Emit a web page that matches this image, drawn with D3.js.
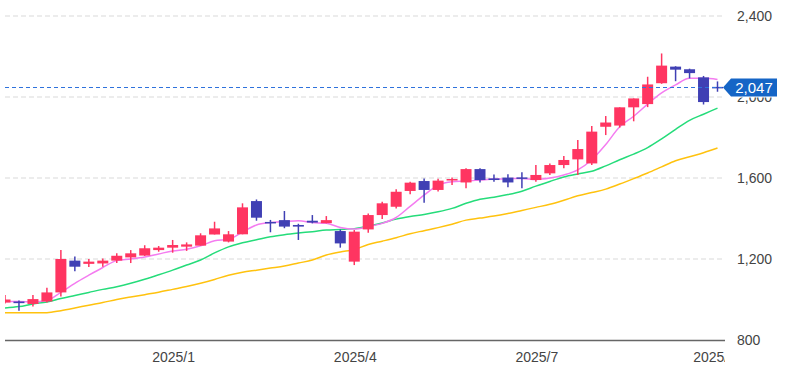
<!DOCTYPE html>
<html>
<head>
<meta charset="utf-8">
<script src="https://cdn.jsdelivr.net/npm/d3@7"></script>
<style>
    body { margin: 0; background: #fff; }
    #chart-area text { font-family: "Liberation Sans", Arial, sans-serif; }
</style>
</head>
<body>
<div id="chart-area"></div>
<script>

// weekly candles, first week starts Mon 2024-10-07 (52 weeks)
var firstWeek = new Date(2024, 9, 7);
var weekCount = 52;

// OHLC
var opens  = [985, 990, 978, 990, 1035, 1192, 1176, 1178, 1192, 1208, 1217, 1244, 1256, 1261, 1266, 1321, 1286, 1322,
              1486, 1383, 1392, 1368, 1389, 1377, 1338, 1187, 1346, 1417, 1458, 1536, 1585, 1541, 1588, 1578, 1644, 1598,
              1602, 1603, 1590, 1623, 1664, 1692, 1672, 1853, 1859, 1949, 1965, 2068, 2150, 2137, 2097, 2050];
var highs  = [1022, 995, 1022, 1058, 1245, 1212, 1200, 1203, 1229, 1244, 1268, 1264, 1294, 1282, 1327, 1384, 1338, 1475,
              1494, 1393, 1437, 1374, 1417, 1412, 1346, 1343, 1425, 1483, 1544, 1582, 1598, 1596, 1602, 1648, 1648, 1617,
              1618, 1629, 1664, 1672, 1709, 1788, 1857, 1906, 1949, 1993, 2100, 2215, 2152, 2140, 2104, 2077];
var lows   = [980, 945, 965, 985, 1015, 1140, 1160, 1162, 1180, 1180, 1215, 1236, 1231, 1240, 1266, 1321, 1282, 1322,
              1389, 1332, 1352, 1294, 1376, 1376, 1256, 1170, 1330, 1398, 1450, 1520, 1478, 1533, 1565, 1549, 1578, 1582,
              1554, 1549, 1582, 1615, 1648, 1615, 1664, 1812, 1849, 1880, 1950, 2065, 2078, 2092, 1963, 2026];
var closes = [1000, 982, 1002, 1035, 1200, 1162, 1187, 1192, 1216, 1228, 1253, 1256, 1269, 1272, 1317, 1351, 1322, 1455,
              1404, 1376, 1360, 1360, 1380, 1392, 1277, 1335, 1417, 1475, 1532, 1577, 1541, 1587, 1595, 1644, 1590, 1590,
              1578, 1596, 1615, 1664, 1689, 1743, 1829, 1874, 1949, 1993, 2062, 2155, 2135, 2118, 1975, 2047];

// moving averages (5 / 13 / 26 weeks)
var ma5  = [990, 990, 988, 995, 1035, 1080, 1120, 1158, 1192, 1200, 1210, 1225, 1240, 1248, 1265, 1290, 1297, 1333,
            1368, 1380, 1385, 1389, 1380, 1376, 1356, 1348, 1360, 1376, 1405, 1460, 1515, 1565, 1582, 1585, 1590, 1595,
            1596, 1598, 1593, 1600, 1615, 1640, 1690, 1765, 1853, 1905, 1965, 2020, 2060, 2092, 2092, 2087];
var ma13 = [958, 965, 978, 988, 1005, 1020, 1035, 1050, 1063, 1080, 1100, 1122, 1145, 1170, 1195, 1230, 1260, 1280,
            1295, 1310, 1320, 1328, 1335, 1343, 1346, 1350, 1362, 1378, 1397, 1410, 1420, 1433, 1450, 1475, 1495, 1505,
            1518, 1535, 1560, 1583, 1605, 1620, 1633, 1660, 1690, 1718, 1750, 1793, 1840, 1885, 1915, 1945];
var ma26 = [935, 935, 935, 935, 945, 958, 972, 985, 1000, 1012, 1024, 1036, 1050, 1064, 1080, 1099, 1120, 1135,
            1145, 1155, 1165, 1180, 1195, 1220, 1235, 1246, 1272, 1288, 1305, 1325, 1340, 1355, 1372, 1392, 1402, 1412,
            1425, 1440, 1455, 1470, 1490, 1512, 1528, 1545, 1570, 1597, 1625, 1655, 1685, 1705, 1725, 1748];

var lastPrice = 2047;

var yTicks = [800, 1200, 1600, 2000, 2400];
var xTickWeeks  = ["2024-12-30", "2025-03-31", "2025-06-30", "2025-09-29"];
var xTickLabels = ["2025/1", "2025/4", "2025/7", "2025/10"];


CandleChart = function(_parentElement) {
    this.parentElement = _parentElement;
    this.displayData = [];
    this.initVis();
};

CandleChart.prototype.initVis = function() {
    var vis = this;

    vis.svgWidth = 810;
    vis.svgHeight = 367;
    vis.plot = {left: 5, right: 725, top: 0, bottom: 340};

    vis.svg = d3.select("#" + vis.parentElement).append("svg")
        .attr("width", vis.svgWidth)
        .attr("height", vis.svgHeight);

    vis.svg.append("clipPath").attr("id", "plot-clip")
        .append("rect")
        .attr("x", vis.plot.left)
        .attr("y", 0)
        .attr("width", vis.plot.right - vis.plot.left)
        .attr("height", vis.plot.bottom);

    vis.svg.append("clipPath").attr("id", "plot-clip-x")
        .append("rect")
        .attr("x", 0).attr("y", 340)
        .attr("width", vis.plot.right).attr("height", 27);

    vis.y = d3.scaleLinear()
        .domain([800, 2400])
        .range([340, 16]);

    vis.wrangleData();
};

CandleChart.prototype.wrangleData = function() {
    var vis = this;

    var weeks = d3.timeMonday.range(firstWeek, d3.timeWeek.offset(firstWeek, weekCount));
    var fmt = d3.timeFormat("%Y-%m-%d");

    vis.displayData = weeks.map(function(d, i) {
        return {
            key: fmt(d),
            open: opens[i], high: highs[i], low: lows[i], close: closes[i],
            ma5: ma5[i], ma13: ma13[i], ma26: ma26[i]
        };
    });

    // one slot per week
    vis.x = d3.scalePoint()
        .domain(vis.displayData.map(function(d) { return d.key; }))
        .range([5, 717.5]);

    vis.updateVis();
};

CandleChart.prototype.updateVis = function() {
    var vis = this;
    var p = vis.plot;

    // dashed grid
    vis.svg.append("g").attr("class", "grid")
        .selectAll("line")
        .data(yTicks.filter(function(t) { return t > 800; }))
        .enter().append("line")
        .attr("x1", p.left).attr("x2", p.right)
        .attr("y1", function(d) { return vis.y(d); })
        .attr("y2", function(d) { return vis.y(d); })
        .attr("stroke", "#d9d9d9")
        .attr("stroke-width", 1)
        .attr("stroke-dasharray", "5,3");

    // y labels on the right
    vis.svg.append("g").attr("class", "y-labels")
        .selectAll("text")
        .data(yTicks)
        .enter().append("text")
        .attr("x", 737)
        .attr("y", function(d) { return vis.y(d) + 5; })
        .attr("font-size", 14)
        .attr("fill", "#444")
        .text(d3.format(","));

    // bottom axis line
    vis.svg.append("line")
        .attr("x1", p.left).attr("x2", p.right)
        .attr("y1", 340.5).attr("y2", 340.5)
        .attr("stroke", "#666")
        .attr("stroke-width", 1.5);

    // x labels, the last one is cut at the plot edge
    vis.svg.append("g").attr("clip-path", "url(#plot-clip-x)")
        .selectAll("text")
        .data(xTickWeeks)
        .enter().append("text")
        .attr("x", function(d) { return vis.x(d) + 1; })
        .attr("y", 362)
        .attr("text-anchor", "middle")
        .attr("font-size", 14)
        .attr("fill", "#444")
        .text(function(d, i) { return xTickLabels[i]; });

    var plotG = vis.svg.append("g").attr("clip-path", "url(#plot-clip)");

    // moving average lines
    var maDefs = [
        {key: "ma26", color: "#ffc20e"},
        {key: "ma13", color: "#25dc7a"},
        {key: "ma5",  color: "#f47cf0"}
    ];
    maDefs.forEach(function(m) {
        var line = d3.line()
            .x(function(d) { return vis.x(d.key); })
            .y(function(d) { return vis.y(d[m.key]); })
            .curve(d3.curveMonotoneX);
        plotG.append("path")
            .datum(vis.displayData)
            .attr("fill", "none")
            .attr("stroke", m.color)
            .attr("stroke-width", 1.5)
            .attr("d", line);
    });

    // candles
    var upColor = "#ff3561", downColor = "#4040b4";
    var bodyW = 11;

    var candle = plotG.selectAll(".candle")
        .data(vis.displayData)
        .enter().append("g")
        .attr("class", "candle")
        .attr("fill", function(d) { return d.close >= d.open ? upColor : downColor; })
        .attr("stroke", function(d) { return d.close >= d.open ? upColor : downColor; });

    candle.append("line")
        .attr("x1", function(d) { return vis.x(d.key); })
        .attr("x2", function(d) { return vis.x(d.key); })
        .attr("y1", function(d) { return vis.y(d.high); })
        .attr("y2", function(d) { return vis.y(d.low); })
        .attr("stroke-width", 1.5);

    candle.append("rect")
        .attr("x", function(d) { return vis.x(d.key) - bodyW / 2; })
        .attr("y", function(d) { return vis.y(Math.max(d.open, d.close)); })
        .attr("width", bodyW)
        .attr("height", function(d) { return Math.max(1.5, Math.abs(vis.y(d.open) - vis.y(d.close))); })
        .attr("stroke", "none");

    // last price line + tag
    var yp = Math.round(vis.y(lastPrice)) + 0.5;
    vis.svg.append("line")
        .attr("x1", p.left).attr("x2", 722)
        .attr("y1", yp).attr("y2", yp)
        .attr("stroke", "#2f72dc")
        .attr("stroke-width", 1)
        .attr("stroke-dasharray", "4,3");

    vis.svg.append("rect")
        .attr("x", 729).attr("y", yp - 11)
        .attr("width", 50).attr("height", 21)
        .attr("fill", "#fff");

    vis.svg.append("path")
        .attr("d", "M723," + yp + " L731," + (yp - 9) + " L777," + (yp - 9) +
                   " L777," + (yp + 9) + " L731," + (yp + 9) + " Z")
        .attr("fill", "#1565c6");

    vis.svg.append("text")
        .attr("x", 754)
        .attr("y", yp + 5.5)
        .attr("text-anchor", "middle")
        .attr("font-size", 15)
        .attr("fill", "#fff")
        .text(d3.format(",")(lastPrice));
};

var chart = new CandleChart("chart-area");

</script>
</body>
</html>
